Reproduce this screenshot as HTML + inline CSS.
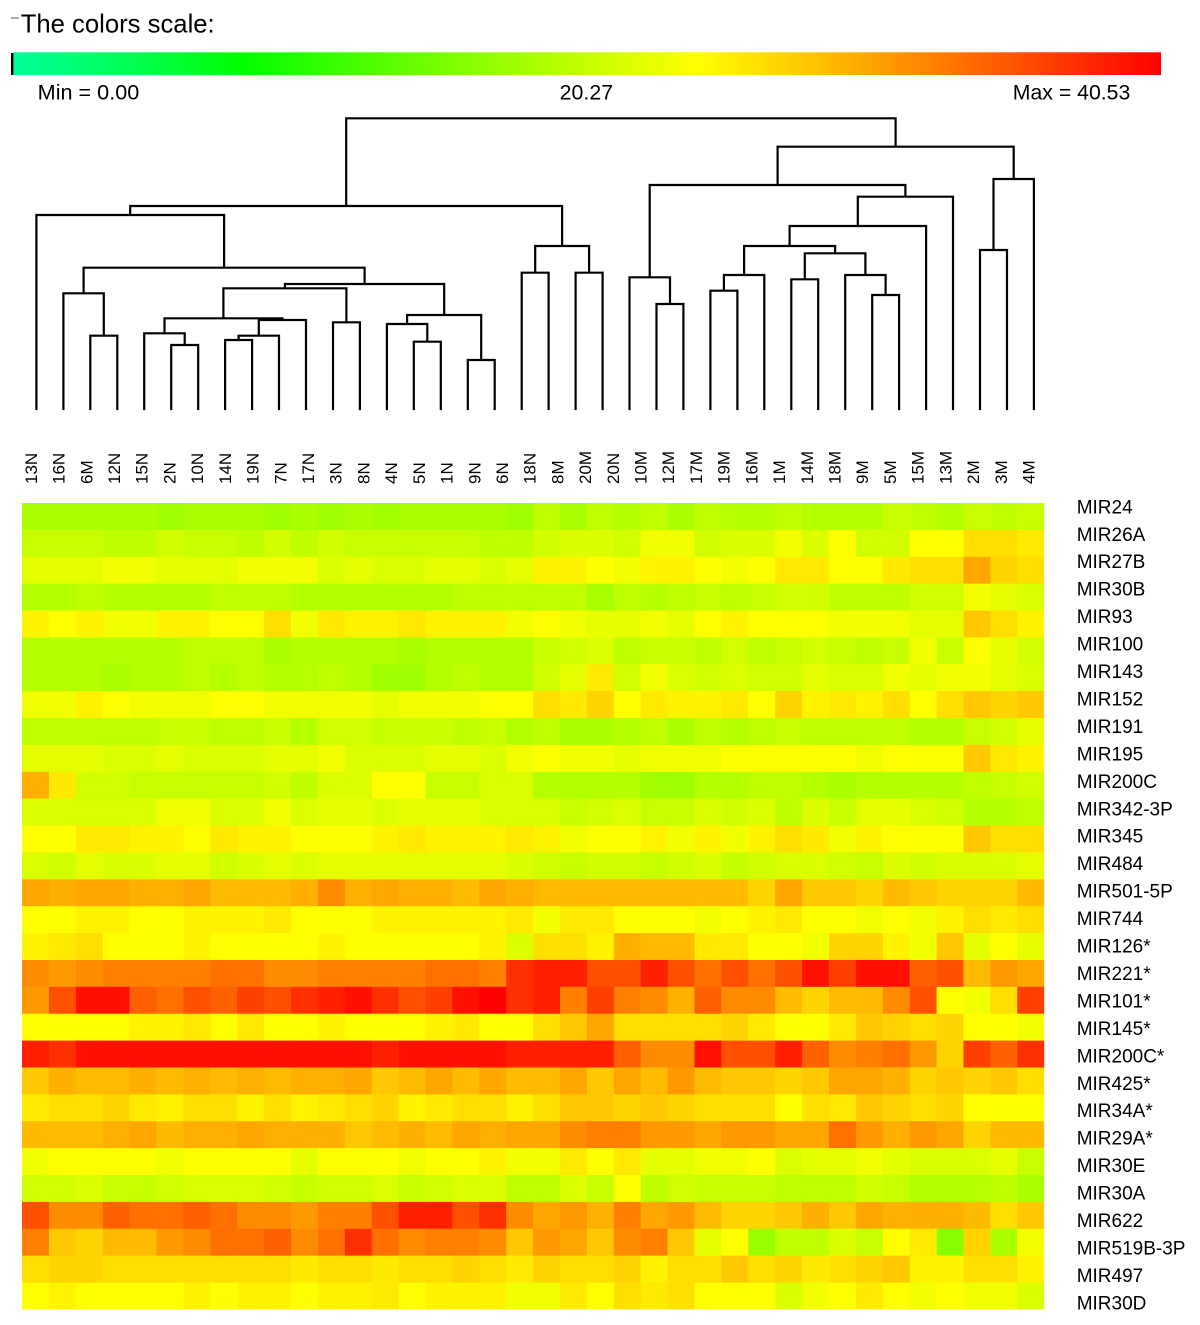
<!DOCTYPE html>
<html><head><meta charset="utf-8"><style>
html,body{margin:0;padding:0;background:#fff;}
svg{display:block;}
text{font-family:"Liberation Sans",Arial,sans-serif;fill:#000;}
</style></head><body>
<svg id="s" xmlns="http://www.w3.org/2000/svg" width="1200" height="1325" viewBox="0 0 1200 1325">
<defs>
<linearGradient id="cg" x1="0" x2="1" y1="0" y2="0">
<stop offset="0" stop-color="#00ff99"/>
<stop offset="0.1" stop-color="#00ff55"/>
<stop offset="0.198" stop-color="#00ff00"/>
<stop offset="0.398" stop-color="#88ff00"/>
<stop offset="0.511" stop-color="#ccff00"/>
<stop offset="0.596" stop-color="#ffff00"/>
<stop offset="0.712" stop-color="#ffbb00"/>
<stop offset="0.816" stop-color="#ff7700"/>
<stop offset="1" stop-color="#ff0000"/>
</linearGradient>
</defs>
<rect x="0" y="0" width="1200" height="1325" fill="#fff"/>
<line x1="11" y1="18" x2="19" y2="18" stroke="#555" stroke-width="1"/>
<text x="20.7" y="32.3" font-size="26" textLength="194" lengthAdjust="spacingAndGlyphs">The colors scale:</text>
<rect x="13" y="52.3" width="1148" height="22.7" fill="url(#cg)"/>
<rect x="11" y="53" width="2.4" height="22" fill="#000"/>
<text x="37.7" y="99.3" font-size="21" textLength="101.6" lengthAdjust="spacingAndGlyphs">Min = 0.00</text>
<text x="559.7" y="99.3" font-size="21" textLength="53.4" lengthAdjust="spacingAndGlyphs">20.27</text>
<text x="1012.8" y="99.3" font-size="21" textLength="117.5" lengthAdjust="spacingAndGlyphs">Max = 40.53</text>
<g id="dend" fill="none" stroke="#000" stroke-width="2.2"></g>
<g id="hm"></g>
<g id="cl" font-size="17"></g>
<g id="rl" font-size="19"></g>
</svg>
<script>
(function(){
var NS="http://www.w3.org/2000/svg";
var pal={x:'#88ff00','0':'#99ff00','1':'#a2ff00','2':'#aaff00','3':'#b4ff00','4':'#bfff00','5':'#c8ff00','6':'#d2ff00','7':'#dcff00','8':'#e6ff00','9':'#f2ff00',
A:'#ffff00',B:'#fff300',C:'#ffea00',D:'#ffdf00',E:'#ffd400',F:'#ffc800',G:'#ffbb00',H:'#ffb000',I:'#ffa600',J:'#ff9900',K:'#ff8c00',L:'#ff8000',M:'#ff7000',N:'#ff6000',O:'#ff5000',P:'#ff4000',Q:'#ff3000',R:'#ff2000',S:'#ff1000',T:'#ff0000'};
var rows=[
"2222212221212122221"+"4243424334333543545",
"5554465546465555544"+"67769967797A66AADDC",
"8889988899978778878"+"BBA9BBA9ACCAACDDIED",
"3343333444333333444"+"4424345456644466987",
"BAB99BBAAD9CBBCBBB9"+"A98898ABAAA99988FDB",
"3333334442333323333"+"5674554645654595A86",
"3332334343343113433"+"68C6976766877989987",
"99BA999AA99998999AA"+"DCEACBBCAEBCBDADFEF",
"4444455445366555453"+"4223424345444433568",
"8887787778897778879"+"A998999AAAAA9AAAFCB",
"HC66555556477AA5577"+"3333113344323333456",
"7777799779788788877"+"7567557674758876334",
"AACCBBACBBAAABCBBBC"+"B9AAB9B9BDC9BAAAFDD",
"7687788678788888887"+"6566567567765767778",
"IHIIHHIGGGHKHIHHGIH"+"GGGGGGGGEIFFEGFEEEG",
"AABBAABBBCAAABBBBBC"+"9CCAAA9ABCAA9A9BDCD",
"BCDAAABAAAABAAAAAB7"+"DDBHGGCCAA9EEB9F8A8",
"KJKLLLLMMKKLLLLMMLQ"+"RROOROMOMOSPSSNOGJI",
"JOSSNMONPOQRSQOPSTQ"+"RLPLKHNKKGEGGKOA9DP",
"AAAABBCACAABAAABCAA"+"DFIDDDDECAACFEDEAA9",
"RQSSSSSSSSSSSRSSSSR"+"RRRNKKSOORNKLMJEPNQ",
"FHGGHGHGHGHHIFGIGIG"+"GIFIGJGFFEFIIHEFEFD",
"CDDECBDDBDBCDEBCDDB"+"DFFEFEDDDADCFEDEAAA",
"GGGHIGHHIHHHFGHGIHI"+"IKLLJJIJJIIMJHJIEGG",
"9AAAA9AAAA8AAA9AAB9"+"9CAC8899A7889877785",
"6675567776566756774"+"475A465554446533342",
"OKKNMMNMKKJLLORROQK"+"IJHLIJGEEFHFIHHHGDF",
"LFEGGJKMMNKMQMKLLKF"+"JIFKLF8A04475ACxE29",
"DEEDDDDDDDCDDCDDEDC"+"EDDEBDDFDECDEFBBDDB",
"ABAAAABABBABBCABBB9"+"9CADCDAAA79ACA9A997"];
var hm=document.getElementById('hm');
var X0=22,CW=26.9,Y0=503,RH=26.88,NC=38,NR=30;
for(var r=0;r<NR;r++){
 for(var c=0;c<NC;c++){
  var ch=rows[r].charAt(c)||'A';
  var x0=X0+c*CW,x1=X0+(c+1)*CW,y0=Y0+r*RH,y1=Y0+(r+1)*RH;
  var e=document.createElementNS(NS,'rect');
  e.setAttribute('x',x0.toFixed(2));e.setAttribute('y',y0.toFixed(2));
  e.setAttribute('width',(x1-x0+(c<NC-1?0.6:0)).toFixed(2));
  e.setAttribute('height',(y1-y0+(r<NR-1?0.6:0)).toFixed(2));
  e.setAttribute('fill',pal[ch]||'#ffff00');
  hm.appendChild(e);
 }
}
var LB=409;
function lx(i){return 36.4+26.96*i;}
var nodes={
A:[2,3,335.7],B:[1,'A',293.3],C:[5,6,345],D:[4,'C',333.3],E:[7,8,340],F:['E',9,335.7],G:['F',10,320],
H:['D','G',318.3],I:[11,12,322.3],J:['H','I',288.3],K:[14,15,341.7],L:[13,'K',324],M:[16,17,360],
N:['L','M',315],O:['J','N',284],P:['B','O',267.7],Q:[0,'P',215],R:[18,19,272.7],S:[20,21,272.7],
T:['R','S',246],U:['Q','T',206],V:[23,24,304],W:[22,'V',277.3],X:[25,26,290.7],Y:['X',27,275],
Z:[28,29,279.3],AA:[31,32,295],AB:[30,'AA',275],AC:['Z','AB',253.3],AD:['Y','AC',246],AE:['AD',33,226],
AF:['AE',34,196.7],AG:['W','AF',185],AH:[35,36,250],AI:['AH',37,179],AJ:['AG','AI',146.7],RT:['U','AJ',118.3]};
var memo={};
function pos(k){
 if(typeof k==='number')return [lx(k),LB];
 if(memo[k])return memo[k];
 var n=nodes[k],a=pos(n[0]),b=pos(n[1]);
 memo[k]=[(a[0]+b[0])/2,n[2]];return memo[k];
}
var d='';
for(var k in nodes){
 var n=nodes[k],a=pos(n[0]),b=pos(n[1]),h=n[2];
 d+='M'+a[0].toFixed(1)+' '+a[1].toFixed(1)+'V'+h+'H'+b[0].toFixed(1)+'V'+b[1].toFixed(1);
}
var p=document.createElementNS(NS,'path');p.setAttribute('d',d);p.setAttribute('stroke-linecap','square');
document.getElementById('dend').appendChild(p);
var cols=["13N","16N","6M","12N","15N","2N","10N","14N","19N","7N","17N","3N","8N","4N","5N","1N","9N","6N","18N","8M","20M","20N","10M","12M","17M","19M","16M","1M","14M","18M","9M","5M","15M","13M","2M","3M","4M"];
var cl=document.getElementById('cl');
for(var i=0;i<cols.length;i++){
 var xc=30.7+27.71*i;
 var t=document.createElementNS(NS,'text');
 t.setAttribute('transform','translate('+(xc+6.2).toFixed(1)+',484) rotate(-90)');
 t.textContent=cols[i];cl.appendChild(t);
}
var rl=["MIR24","MIR26A","MIR27B","MIR30B","MIR93","MIR100","MIR143","MIR152","MIR191","MIR195","MIR200C","MIR342-3P","MIR345","MIR484","MIR501-5P","MIR744","MIR126*","MIR221*","MIR101*","MIR145*","MIR200C*","MIR425*","MIR34A*","MIR29A*","MIR30E","MIR30A","MIR622","MIR519B-3P","MIR497","MIR30D"];
var rg=document.getElementById('rl');
for(var j=0;j<rl.length;j++){
 var t2=document.createElementNS(NS,'text');
 t2.setAttribute('x','1076.7');t2.setAttribute('y',(513.3+27.45*j).toFixed(1));
 t2.textContent=rl[j];rg.appendChild(t2);
}
})();
</script>
</body></html>
